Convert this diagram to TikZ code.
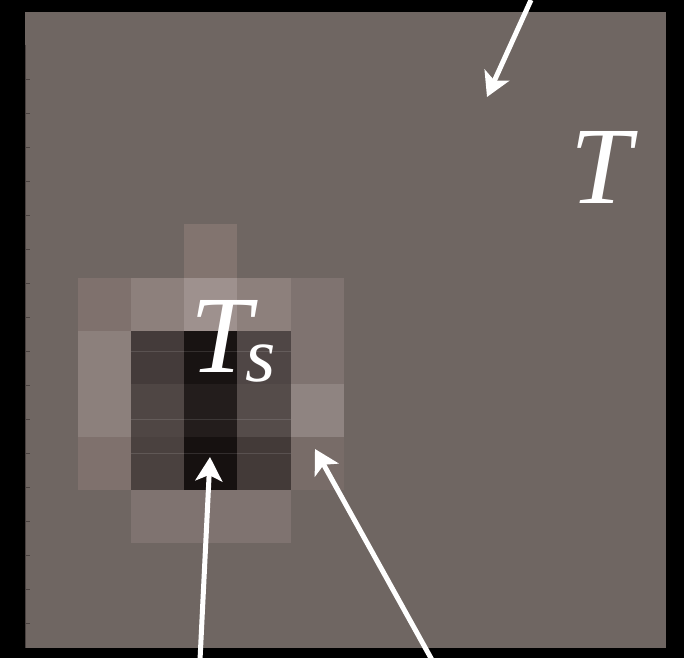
\documentclass[tikz,border=0pt]{standalone}
\usepackage{fontspec}
\setmainfont{Liberation Serif}
\usetikzlibrary{arrows.meta}
\definecolor{bgc}{HTML}{6F6662}
\definecolor{pxa}{HTML}{82746F}
\definecolor{pxb}{HTML}{7F716D}
\definecolor{pxc}{HTML}{8D807C}
\definecolor{pxd}{HTML}{9E918E}
\definecolor{pxe}{HTML}{7F7370}
\definecolor{pxf}{HTML}{8C807C}
\definecolor{pxg}{HTML}{443B3A}
\definecolor{pxh}{HTML}{181312}
\definecolor{pxi}{HTML}{4F4645}
\definecolor{pxj}{HTML}{4F4644}
\definecolor{pxk}{HTML}{231D1C}
\definecolor{pxl}{HTML}{554C4A}
\definecolor{pxm}{HTML}{8F8481}
\definecolor{pxn}{HTML}{4A413F}
\definecolor{pxo}{HTML}{161110}
\definecolor{pxp}{HTML}{433A38}
\definecolor{pxq}{HTML}{786C68}
\definecolor{tickc}{HTML}{4A4240}
\tikzset{
  warrow/.style={draw=white, line width=5pt, -{Stealth[length=24pt,width=27pt,inset=6pt]}},
  biglabel/.style={text=white, font=\fontsize{110}{110}\selectfont\itshape, inner sep=0pt, anchor=base west},
}
\begin{document}
\begin{tikzpicture}[x=1pt,y=-1pt]
\fill[black] (0,0) rectangle (684,658);
\useasboundingbox (0,0) rectangle (684,658);
% panel
\fill[bgc] (25,12) rectangle (666,648);
\draw[tickc, line width=1.2pt] (25.5,45) -- (25.5,648);
\foreach \yy in {79,113,147,181,215,249,283,317,351,385,419,453,487,521,555,589,623}
  \draw[tickc, line width=0.8pt] (25,\yy) -- (30,\yy);
% pixel cells: columns 78,131,184,237,291,344 ; rows 224,278,331,384,437,490,543
\def\pxcell#1#2#3#4#5{\fill[#5] (#1,#3) rectangle (#2,#4);}
\pxcell{184}{237}{224}{278}{pxa}
\pxcell{78}{131}{278}{331}{pxb}
\pxcell{131}{184}{278}{331}{pxc}
\pxcell{184}{237}{278}{331}{pxd}
\pxcell{237}{291}{278}{331}{pxc}
\pxcell{291}{344}{278}{331}{pxe}
\pxcell{78}{131}{331}{384}{pxf}
\pxcell{131}{184}{331}{384}{pxg}
\pxcell{184}{237}{331}{384}{pxh}
\pxcell{237}{291}{331}{384}{pxi}
\pxcell{291}{344}{331}{384}{pxe}
\pxcell{78}{131}{384}{437}{pxf}
\pxcell{131}{184}{384}{437}{pxj}
\pxcell{184}{237}{384}{437}{pxk}
\pxcell{237}{291}{384}{437}{pxl}
\pxcell{291}{344}{384}{437}{pxm}
\pxcell{78}{131}{437}{490}{pxb}
\pxcell{131}{184}{437}{490}{pxn}
\pxcell{184}{237}{437}{490}{pxo}
\pxcell{237}{291}{437}{490}{pxp}
\pxcell{291}{344}{437}{490}{pxq}
\pxcell{131}{291}{490}{543}{pxe}
% faint scan lines
\foreach \yy in {351,419,453}
  \draw[white, opacity=0.12, line width=0.6pt] (131,\yy) -- (291,\yy);
% labels
\node[biglabel] (T) at (570,203) {T};
\node[biglabel] (Ts) at (190,372) {T\kern-6pt\raisebox{-9pt}{\fontsize{78}{78}\selectfont s}};
% arrows
\coordinate (a1s) at (531,0);
\coordinate (a1e) at (487,97);
\coordinate (a2s) at (200,660);
\coordinate (a2e) at (210,457);
\coordinate (a3s) at (432,660);
\coordinate (a3e) at (315,449);
\draw[warrow] (a1s) -- (a1e);
\draw[warrow] (a2s) -- (a2e);
\draw[warrow] (a3s) -- (a3e);
\end{tikzpicture}
\end{document}
